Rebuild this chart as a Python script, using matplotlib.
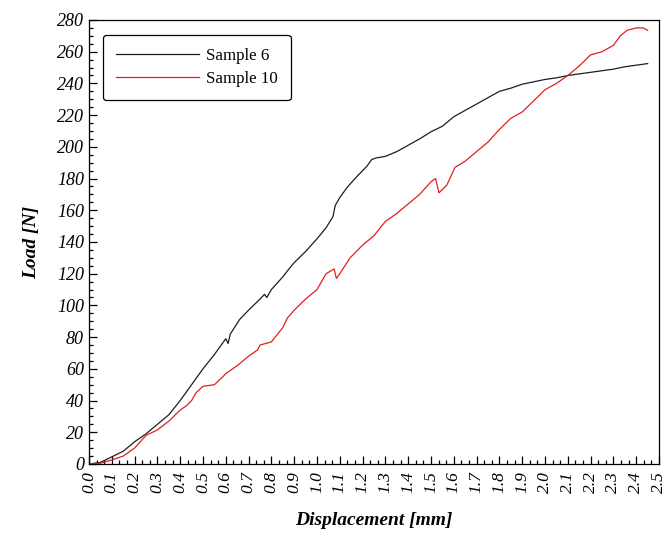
import matplotlib
matplotlib.use('Agg')
import matplotlib.pyplot as plt
from matplotlib.ticker import MultipleLocator, AutoMinorLocator

# Sample 6 (black)
s6_disp = [0.00, 0.05, 0.10, 0.15, 0.20, 0.25, 0.30, 0.35, 0.40, 0.45, 0.50,
           0.55, 0.58, 0.60, 0.61, 0.62, 0.66, 0.70, 0.75, 0.77, 0.78, 0.80,
           0.85, 0.88, 0.90, 0.95, 1.00, 1.04, 1.07, 1.08, 1.10, 1.13, 1.16,
           1.20, 1.22, 1.24, 1.26, 1.30, 1.35, 1.40, 1.45, 1.50, 1.55, 1.60,
           1.65, 1.70, 1.75, 1.80, 1.85, 1.90, 1.95, 2.00, 2.05, 2.10, 2.15,
           2.20, 2.25, 2.30, 2.35, 2.40, 2.45]
s6_load = [0, 1, 4.5, 8, 14, 19, 25, 31, 40, 50, 60,
           69, 75, 79, 76, 82, 91, 97, 104, 107, 105, 110,
           118, 123.5, 127, 134, 142, 149, 156, 163, 168, 174, 179,
           185, 188, 192, 193, 194, 197, 201, 205, 209.5, 213, 219,
           223, 227, 231, 235, 237, 239.5, 241, 242.5, 243.5, 245, 246,
           247, 248, 249, 250.5, 251.5, 252.5]

# Sample 10 (red)
s10_disp = [0.00, 0.05, 0.10, 0.15, 0.20, 0.25, 0.30, 0.35, 0.40, 0.43, 0.45,
            0.47, 0.50, 0.55, 0.58, 0.60, 0.65, 0.70, 0.74, 0.75, 0.80, 0.85,
            0.87, 0.90, 0.95, 1.00, 1.04, 1.075, 1.085, 1.10, 1.145, 1.20, 1.25,
            1.30, 1.35, 1.40, 1.45, 1.50, 1.52, 1.535, 1.57, 1.605, 1.65, 1.70,
            1.75, 1.80, 1.85, 1.90, 1.95, 2.00, 2.05, 2.10, 2.15, 2.20, 2.25,
            2.30, 2.33, 2.36, 2.40, 2.43, 2.45]
s10_load = [0, 0.5, 2.5, 5, 10, 18, 21.5, 27, 34, 37, 40,
            45, 49, 50, 54, 57, 62, 68, 72, 75, 77, 86,
            92, 97, 104, 110, 120, 123, 117, 120, 130, 138, 144,
            153, 158, 164, 170, 178, 180, 171, 176, 187, 191, 197,
            203, 211, 218, 222, 229, 236, 240, 245, 251, 258, 260,
            264, 270, 273.5, 275, 275, 273.5]

plt.rcParams['font.family'] = ['Liberation Serif', 'DejaVu Serif']

fig = plt.figure(figsize=(6.65, 5.33), dpi=100)
ax = fig.add_axes([0.1338, 0.1295, 0.8572, 0.833])

ax.plot(s6_disp, s6_load, color='#1e1e1e', lw=0.9, label='Sample 6')
ax.plot(s10_disp, s10_load, color='#e02020', lw=0.9, label='Sample 10')

ax.xaxis.set_major_locator(MultipleLocator(0.1))
ax.xaxis.set_minor_locator(AutoMinorLocator(3))
ax.yaxis.set_major_locator(MultipleLocator(20))
ax.yaxis.set_minor_locator(AutoMinorLocator(4))
ax.tick_params(which='both', direction='in', top=False, right=False, width=0.9)
ax.tick_params(which='major', length=6, labelsize=13)
ax.tick_params(which='minor', length=3)
ax.tick_params(axis='x', labelrotation=90, labelsize=12.5, pad=5)
xt = [i / 10 for i in range(26)]
yt = list(range(0, 281, 20))
ax.set_xticks(xt)
ax.set_xticklabels([f"{v:.1f}" for v in xt], fontstyle='italic')
ax.set_yticks(yt)
ax.set_yticklabels([str(v) for v in yt], fontstyle='italic')
ax.set_xlim(0, 2.5)
ax.set_ylim(0, 280)

for sp in ax.spines.values():
    sp.set_linewidth(0.9)

ax.set_xlabel('Displacement [mm]', fontsize=14, fontweight='bold', fontstyle='italic', labelpad=14)
ax.set_ylabel('Load [N]', fontsize=14, fontweight='bold', fontstyle='italic', labelpad=12)

leg = ax.legend(loc='upper left', bbox_to_anchor=(0.0246, 0.966), borderaxespad=0,
                fontsize=12.2, handlelength=4.9, handletextpad=0.45, frameon=True,
                fancybox=True, edgecolor='black', framealpha=1, borderpad=0.75,
                labelspacing=0.45)
leg.get_frame().set_linewidth(0.9)

fig.savefig('out.png', dpi=100)
